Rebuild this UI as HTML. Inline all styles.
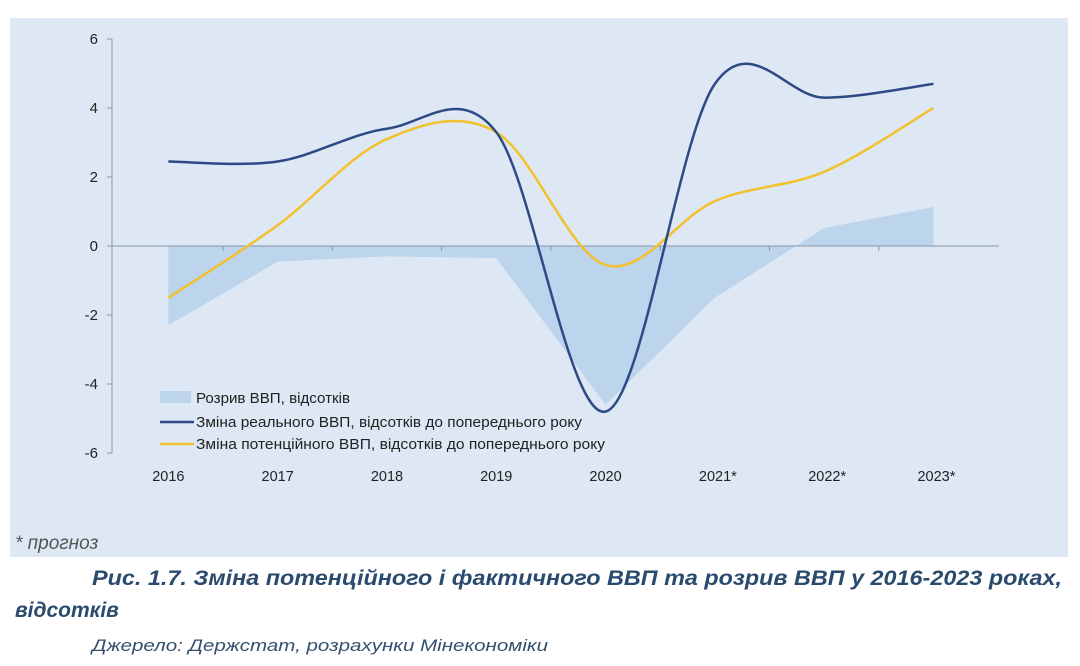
<!DOCTYPE html>
<html><head><meta charset="utf-8"><style>
html,body{margin:0;padding:0;background:#fff;}
svg{display:block;}
</style></head><body>
<svg id="chart" width="1080" height="666" viewBox="0 0 1080 666" xmlns="http://www.w3.org/2000/svg">
<rect x="10" y="18" width="1058" height="539" fill="#dde8f4"/>
<g id="plot"></g>
<g id="legend">
  <rect x="160" y="391" width="31" height="12" fill="#bcd4ec"/>
  <text x="196" y="403" textLength="154" lengthAdjust="spacingAndGlyphs" font-family="'Liberation Sans',sans-serif" font-size="15" fill="#222">Розрив ВВП, відсотків</text>
  <line x1="160" y1="422" x2="194" y2="422" stroke="#2e4a86" stroke-width="2.5"/>
  <text x="196" y="427" textLength="386" lengthAdjust="spacingAndGlyphs" font-family="'Liberation Sans',sans-serif" font-size="15" fill="#222">Зміна реального ВВП, відсотків до попереднього року</text>
  <line x1="160" y1="444" x2="194" y2="444" stroke="#f2c12e" stroke-width="2.5"/>
  <text x="196" y="449" textLength="409" lengthAdjust="spacingAndGlyphs" font-family="'Liberation Sans',sans-serif" font-size="15" fill="#222">Зміна потенційного ВВП, відсотків до попереднього року</text>
</g>
<text x="15" y="549" font-family="'Liberation Sans',sans-serif" font-style="italic" font-size="19" fill="#555">* прогноз</text>
<text x="92" y="585" textLength="970" lengthAdjust="spacingAndGlyphs" font-family="'Liberation Sans',sans-serif" font-style="italic" font-weight="bold" font-size="21" fill="#2a4a6e">Рис. 1.7. Зміна потенційного і фактичного ВВП та розрив ВВП у 2016-2023 роках,</text>
<text x="15" y="617" font-family="'Liberation Sans',sans-serif" font-style="italic" font-weight="bold" font-size="21" fill="#2a4a6e">відсотків</text>
<text x="92" y="651" textLength="456" lengthAdjust="spacingAndGlyphs" font-family="'Liberation Sans',sans-serif" font-style="italic" font-size="17" fill="#34506e">Джерело: Держстат, розрахунки Мінекономіки</text>
</svg>
<script>
const categories = ["2016","2017","2018","2019","2020","2021*","2022*","2023*"];
const gapValues = [-2.3,-0.45,-0.3,-0.35,-4.6,-1.5,0.52,1.13];
const realValues = [2.45,2.45,3.4,3.3,-4.8,4.7,4.3,4.7];
const potentialValues = [-1.5,0.6,3.1,3.3,-0.55,1.3,2.15,4.0];
const yTicks = [6,4,2,0,-2,-4,-6];

const NS="http://www.w3.org/2000/svg";
const plot=document.getElementById('plot');
const x0=113.7, step=109.3;
const xS=i=>x0+step*(i+0.5);
const y0=246, unit=34.5;
const yS=v=>y0-v*unit;
function mk(tag,attrs){const e=document.createElementNS(NS,tag);for(const k in attrs)e.setAttribute(k,attrs[k]);plot.appendChild(e);return e;}

let d=`M${xS(0)},${yS(0)}`;
gapValues.forEach((v,i)=>{d+=` L${xS(i)},${yS(v)}`;});
d+=` L${xS(gapValues.length-1)},${yS(0)} Z`;
const area=mk('path',{d:d,fill:'#bcd4ec'});



const ya=mk('line',{x1:112,y1:yS(6),x2:112,y2:yS(-6),stroke:'#8a96a8','stroke-width':1});


yTicks.forEach(t=>{
  const tk=mk('line',{x1:107,y1:yS(t),x2:112,y2:yS(t),stroke:'#8a96a8','stroke-width':1});
  
  
  const lb=mk('text',{x:98,y:yS(t)+5,'text-anchor':'end','font-family':"'Liberation Sans',sans-serif",'font-size':15,fill:'#222'});
  lb.textContent=String(t);
  
  
});
const xa=mk('line',{x1:112,y1:y0,x2:999,y2:y0,stroke:'#8a96a8','stroke-width':1});


categories.forEach((c,i)=>{
  if(i>0){
    const tk=mk('line',{x1:x0+step*i,y1:y0,x2:x0+step*i,y2:y0+5,stroke:'#8a96a8','stroke-width':1});
    
    
  }
  const lb=mk('text',{x:xS(i)+(c.includes('*')?3:0),y:481,'text-anchor':'middle','font-family':"'Liberation Sans',sans-serif",'font-size':14.5,fill:'#222'});
  lb.textContent=c;
  
  
});

function smooth(vals){
  const p=vals.map((v,i)=>[xS(i),yS(v)]);
  let s=`M${p[0][0]},${p[0][1]}`;
  for(let i=0;i<p.length-1;i++){
    const a=p[i-1]||p[i], b=p[i], c=p[i+1], e=p[i+2]||p[i+1];
    const c1=[b[0]+(c[0]-a[0])/6,b[1]+(c[1]-a[1])/6];
    const c2=[c[0]-(e[0]-b[0])/6,c[1]-(e[1]-b[1])/6];
    s+=` C${c1[0]},${c1[1]} ${c2[0]},${c2[1]} ${c[0]},${c[1]}`;
  }
  return s;
}
const pl=mk('path',{d:smooth(potentialValues),fill:'none',stroke:'#f2c12e','stroke-width':2.5});


const rl=mk('path',{d:smooth(realValues),fill:'none',stroke:'#2e4a86','stroke-width':2.5});


</script>
</body></html>
